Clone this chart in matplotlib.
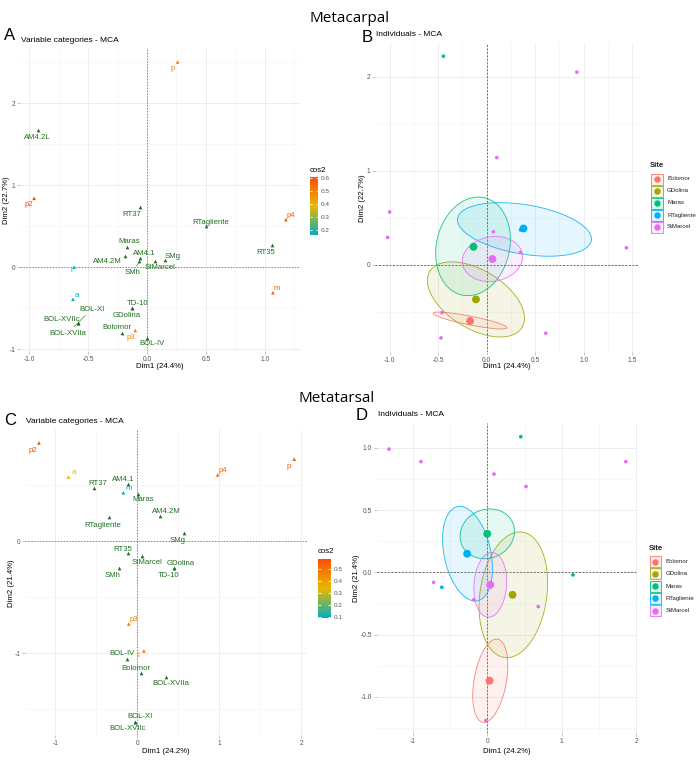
import numpy as np
import matplotlib
matplotlib.use("Agg")
import matplotlib.pyplot as plt
from matplotlib.colors import LinearSegmentedColormap, Normalize
from matplotlib.patches import Rectangle, Polygon
from matplotlib.lines import Line2D
from matplotlib.cm import ScalarMappable
from matplotlib.ticker import FixedLocator

# ======================= DATA =======================
# ---- Metacarpal: variable categories (A) ----
mc_var_names = ["p", "p2", "p3", "p4", "m", "a", "l"]
mc_var_x = [0.26, -0.96, -0.10, 1.18, 1.07, -0.63, -0.62]
mc_var_y = [2.50, 0.84, -0.77, 0.58, -0.31, -0.39, 0.00]
mc_var_cos2 = [0.50, 0.61, 0.49, 0.58, 0.57, 0.165, 0.18]

mc_sup_names = ["AM4.2L", "RT37", "RTagliente", "RT35", "Maras", "AM4.2M", "AM4.1",
                "SMh", "StMarcel", "SMg", "BOL-XI", "BOL-XVIIc", "BOL-XVIIa",
                "TD-10", "GDolina", "Bolomor", "BOL-IV"]
mc_sup_x = [-0.93, -0.06, 0.50, 1.06, -0.17, -0.19, -0.06, -0.065, 0.07, 0.15,
            -0.59, -0.59, -0.59, -0.13, -0.13, -0.21, 0.00]
mc_sup_y = [1.67, 0.73, 0.50, 0.27, 0.25, 0.14, 0.11, 0.07, 0.08, 0.085,
            -0.68, -0.68, -0.68, -0.50, -0.50, -0.80, -0.86]

# ---- Metacarpal: individuals (B) ----
sites = ["Bolomor", "GDolina", "Maras", "RTagliente", "StMarcel"]
mc_ind_site = ["Maras", "StMarcel", "StMarcel", "StMarcel", "StMarcel", "StMarcel",
               "StMarcel", "StMarcel", "StMarcel", "StMarcel", "StMarcel", "RTagliente"]
mc_ind_x = [-0.445, 0.93, 0.105, -1.00, -1.02, 0.07, 0.35, 1.44, -0.46, -0.47, 0.61, 0.35]
mc_ind_y = [2.22, 2.05, 1.14, 0.56, 0.29, 0.35, 0.13, 0.18, -0.51, -0.78, -0.73, 0.37]
mc_mean_x = [-0.17, -0.11, -0.135, 0.38, 0.06]
mc_mean_y = [-0.60, -0.37, 0.19, 0.385, 0.06]
# concentration ellipses: centre x, centre y, half x-extent, half y-extent, correlation
mc_ell_cx = [-0.17, -0.11, -0.14, 0.39, 0.06]
mc_ell_cy = [-0.595, -0.37, 0.195, 0.375, 0.06]
mc_ell_hx = [0.38, 0.50, 0.385, 0.69, 0.31]
mc_ell_hy = [0.09, 0.40, 0.525, 0.285, 0.24]
mc_ell_r = [-0.85, -0.50, 0.14, -0.36, 0.10]

# ---- Metatarsal: variable categories (C) ----
mt_var_names = ["p2", "a", "m", "p4", "p", "p3", "l"]
mt_var_x = [-1.20, -0.84, -0.17, 0.98, 1.915, -0.105, 0.08]
mt_var_y = [0.875, 0.57, 0.43, 0.59, 0.73, -0.74, -0.98]
mt_var_cos2 = [0.58, 0.33, 0.09, 0.52, 0.56, 0.47, 0.45]

mt_sup_names = ["AM4.1", "RT37", "Maras", "AM4.2M", "RTagliente", "SMg", "RT35",
                "StMarcel", "GDolina", "TD-10", "SMh", "BOL-IV", "Bolomor",
                "BOL-XVIIa", "BOL-XI", "BOL-XVIIc"]
mt_sup_x = [-0.11, -0.53, 0.005, 0.28, -0.345, 0.57, -0.11, 0.06, 0.445, 0.445,
            -0.225, -0.12, 0.05, 0.35, -0.03, -0.03]
mt_sup_y = [0.51, 0.475, 0.42, 0.225, 0.21, 0.07, -0.11, -0.13, -0.245, -0.245,
            -0.245, -1.05, -1.18, -1.21, -1.61, -1.61]

# ---- Metatarsal: individuals (D) ----
mt_ind_site = ["StMarcel", "StMarcel", "Maras", "StMarcel", "StMarcel", "StMarcel",
               "Maras", "StMarcel", "RTagliente", "StMarcel", "StMarcel", "StMarcel"]
mt_ind_x = [-1.32, -0.89, 0.45, 0.09, 0.52, 1.86, 1.15, -0.72, -0.61, -0.18, 0.685, -0.02]
mt_ind_y = [0.99, 0.89, 1.09, 0.79, 0.69, 0.89, -0.02, -0.08, -0.12, -0.22, -0.275, -1.19]
mt_mean_x = [0.03, 0.34, 0.00, -0.27, 0.04]
mt_mean_y = [-0.87, -0.18, 0.31, 0.15, -0.10]
mt_ell_cx = [0.04, 0.35, 0.00, -0.265, 0.04]
mt_ell_cy = [-0.87, -0.18, 0.31, 0.15, -0.10]
mt_ell_hx = [0.235, 0.46, 0.365, 0.335, 0.22]
mt_ell_hy = [0.335, 0.505, 0.20, 0.38, 0.26]
mt_ell_r = [0.36, 0.19, 0.10, -0.31, 0.10]

# ======================= STYLE / LAYOUT =======================
W, H = 700, 768
fig = plt.figure(figsize=(W / 100, H / 100), dpi=100)
FONT = "Liberation Sans"
plt.rcParams["font.family"] = [FONT, "DejaVu Sans"]
site_colors = ["#F8766D", "#A3A500", "#00BF7D", "#00B0F6", "#E76BF3"]
SUP_COL = "#1f6e1f"
cmap = LinearSegmentedColormap.from_list("cos2", ["#00AFBB", "#E7B800", "#FC4E07"])

# label offsets in pixels (dx right, dy up) and whether a connector is drawn
offA = {"p": (-5, -7), "AM4.2L": (0, -7), "p2": (-5, -6), "RT37": (-8, -7),
        "RTagliente": (5, 4), "p4": (5, 4), "RT35": (-6, -7), "Maras": (2, 5),
        "AM4.2M": (-17, -6), "AM4.1": (4, 5), "SMh": (-7, -11), "StMarcel": (5, -7),
        "SMg": (8, 4), "l": (-3, -3), "a": (4, 4), "m": (4, 4), "BOL-XI": (14, 14),
        "BOL-XVIIc": (-16, 4), "BOL-XVIIa": (-10, -10), "TD-10": (6, 5),
        "GDolina": (-5, -7), "Bolomor": (-5, 5), "p3": (-5, -7), "BOL-IV": (5, -6)}
connA = {"SMh", "BOL-XI", "BOL-XVIIa"}
offC = {"p2": (-6, -8), "a": (5, 5), "RT37": (4, 4), "AM4.1": (-5, 4), "m": (5, 4),
        "Maras": (5, -6), "p4": (5, 4), "p": (-6, -7), "AM4.2M": (6, 4),
        "RTagliente": (-6, -8), "SMg": (-6, -7), "RT35": (-6, 4), "StMarcel": (5, -7),
        "GDolina": (7, 5), "TD-10": (-5, -7), "SMh": (-6, -7), "p3": (5, 4),
        "l": (-5, -5), "BOL-IV": (-5, 5), "Bolomor": (-5, 5), "BOL-XVIIa": (5, -7),
        "BOL-XI": (5, 5), "BOL-XVIIc": (-7, -7)}
connC = set()


def px_axes(x0, y0, x1, y1):
    return fig.add_axes([x0 / W, 1 - y1 / H, (x1 - x0) / W, (y1 - y0) / H])


def ftext(x, y, s, **kw):
    return fig.text(x / W, 1 - y / H, s, **kw)


def setup(ax, xlim, ylim, xmaj, xmin, ymaj, ymin, xfmt, yfmt, zero_style):
    ax.set_xlim(*xlim)
    ax.set_ylim(*ylim)
    ax.xaxis.set_major_locator(FixedLocator(xmaj))
    ax.xaxis.set_minor_locator(FixedLocator(xmin))
    ax.yaxis.set_major_locator(FixedLocator(ymaj))
    ax.yaxis.set_minor_locator(FixedLocator(ymin))
    ax.set_xticklabels([xfmt.format(v) for v in xmaj])
    ax.set_yticklabels([yfmt.format(v) for v in ymaj])
    for s in ax.spines.values():
        s.set_visible(False)
    ax.grid(which="major", color="#EBEBEB", lw=0.6, zorder=0)
    ax.grid(which="minor", color="#F2F2F2", lw=0.4, zorder=0)
    ax.tick_params(which="major", length=2, width=0.4, color="#999999",
                   labelsize=4.8, labelcolor="#555555", pad=1.5)
    ax.tick_params(which="minor", length=0)
    ax.set_axisbelow(True)
    if zero_style == "dot":
        kw = dict(color="#8a8a8a", lw=0.7, ls=(0, (1.5, 1.5)), zorder=1)
    else:
        kw = dict(color="#444444", lw=0.5, ls=(0, (3, 2)), zorder=1)
    ax.axhline(0, **kw)
    ax.axvline(0, **kw)


def draw_vars(ax, names, xs, ys, cos2, snames, sx, sy, offs, conns, norm):
    cols = [cmap(norm(c)) for c in cos2]
    ax.scatter(sx, sy, marker="^", s=7, color=SUP_COL, lw=0, zorder=3)
    ax.scatter(xs, ys, marker="^", s=7, color=cols, lw=0, zorder=3)
    for n, x, y in zip(snames, sx, sy):
        dx, dy = offs[n]
        ap = dict(arrowstyle="-", lw=0.4, color=SUP_COL, shrinkA=0, shrinkB=1) if n in conns else None
        ax.annotate(n, (x, y), xytext=(dx, dy), textcoords="offset pixels",
                    ha="center", va="center", fontsize=5.6, color=SUP_COL,
                    arrowprops=ap, zorder=4)
    for n, x, y, c in zip(names, xs, ys, cols):
        dx, dy = offs[n]
        ax.annotate(n, (x, y), xytext=(dx, dy), textcoords="offset pixels",
                    ha="center", va="center", fontsize=5.6, color=c, zorder=4)


def ellipse_pts(cx, cy, hx, hy, r, n=200):
    A = np.array([[hx * hx, r * hx * hy], [r * hx * hy, hy * hy]])
    L = np.linalg.cholesky(A)
    t = np.linspace(0, 2 * np.pi, n)
    P = L @ np.vstack([np.cos(t), np.sin(t)])
    return np.column_stack([cx + P[0], cy + P[1]])


def draw_inds(ax, isite, ix, iy, mx, my, ecx, ecy, ehx, ehy, er):
    for k, s in enumerate(sites):
        pts = ellipse_pts(ecx[k], ecy[k], ehx[k], ehy[k], er[k])
        ax.add_patch(Polygon(pts, closed=True, facecolor=site_colors[k], alpha=0.10,
                             edgecolor="none", zorder=2))
        ax.add_patch(Polygon(pts, closed=True, facecolor="none",
                             edgecolor=site_colors[k], lw=0.6, alpha=0.9, zorder=2))
    cols = [site_colors[sites.index(s)] for s in isite]
    ax.scatter(ix, iy, s=7, color=cols, lw=0, zorder=3)
    ax.scatter(mx, my, s=32, color=site_colors, lw=0, zorder=4)


def colorbar(x0, y0, x1, y1, norm, ticks, title_xy):
    cax = px_axes(x0, y0, x1, y1)
    cb = fig.colorbar(ScalarMappable(norm=norm, cmap=cmap), cax=cax)
    cb.outline.set_visible(False)
    cb.set_ticks(ticks)
    cb.set_ticklabels(["{:.1f}".format(t) for t in ticks])
    cax.tick_params(length=0, labelsize=4.6, labelcolor="#555555", pad=2)
    cax.hlines(ticks, 0, 0.2, transform=cax.get_yaxis_transform(), color="white", lw=0.6)
    cax.hlines(ticks, 0.8, 1.0, transform=cax.get_yaxis_transform(), color="white", lw=0.6)
    ftext(title_xy[0], title_xy[1], "cos2", fontsize=5.6, ha="left", va="center")


def legend(x0, yc, dy, title_xy):
    ftext(title_xy[0], title_xy[1], "Site", fontsize=5.6, ha="center", va="center",
          fontweight="bold", color="#222222")
    for k, s in enumerate(sites):
        y = yc + k * dy
        fig.add_artist(Rectangle((x0 / W, 1 - (y + 5.5) / H), 11.5 / W, 11 / H,
                                 transform=fig.transFigure, facecolor=site_colors[k],
                                 alpha=0.12, edgecolor="none"))
        fig.add_artist(Rectangle((x0 / W, 1 - (y + 5.5) / H), 11.5 / W, 11 / H,
                                 transform=fig.transFigure, facecolor="none",
                                 edgecolor=site_colors[k], lw=0.6))
        fig.add_artist(Line2D([(x0 + 5.75) / W], [1 - y / H], marker="o", ms=3.6,
                              color=site_colors[k], transform=fig.transFigure, ls=""))
        ftext(x0 + 16, y, s, fontsize=4.4, ha="left", va="center", color="#222222")


# ======================= FIGURE =======================
ftext(350, 19, "Metacarpal", fontsize=11, ha="center", va="center", family="Open Sans")
ftext(337, 398, "Metatarsal", fontsize=11, ha="center", va="center", family="Open Sans")

# ---- A ----
axA = px_axes(20, 48, 300, 351)
setup(axA, (-1.08, 1.30), (-1.02, 2.67), [-1.0, -0.5, 0.0, 0.5, 1.0],
      [-0.75, -0.25, 0.25, 0.75, 1.25], [-1, 0, 1, 2], [-0.5, 0.5, 1.5, 2.5],
      "{:.1f}", "{:.0f}", "dot")
normA = Normalize(min(mc_var_cos2), max(mc_var_cos2))
draw_vars(axA, mc_var_names, mc_var_x, mc_var_y, mc_var_cos2,
          mc_sup_names, mc_sup_x, mc_sup_y, offA, connA, normA)
colorbar(310, 177, 318, 235, normA, [0.2, 0.3, 0.4, 0.5, 0.6], (310, 170))
ftext(4, 40, "A", fontsize=12, ha="left", va="baseline")
ftext(21, 41, "Variable categories - MCA", fontsize=6, ha="left", va="center")
ftext(160, 367, "Dim1 (24.4%)", fontsize=5.6, ha="center", va="center")
ftext(7, 200, "Dim2 (22.7%)", fontsize=5.6, ha="center", va="center", rotation=90)

# ---- B ----
axB = px_axes(375, 43, 639, 352)
setup(axB, (-1.15, 1.57), (-0.93, 2.36), [-1.0, -0.5, 0.0, 0.5, 1.0, 1.5],
      [-0.75, -0.25, 0.25, 0.75, 1.25], [0, 1, 2], [-0.5, 0.5, 1.5],
      "{:.1f}", "{:.0f}", "dash")
draw_inds(axB, mc_ind_site, mc_ind_x, mc_ind_y, mc_mean_x, mc_mean_y,
          mc_ell_cx, mc_ell_cy, mc_ell_hx, mc_ell_hy, mc_ell_r)
legend(651, 179, 12, (656.5, 165.5))
ftext(362, 42, "B", fontsize=12, ha="left", va="baseline")
ftext(376, 34, "Individuals - MCA", fontsize=6, ha="left", va="center")
ftext(507, 367, "Dim1 (24.4%)", fontsize=5.6, ha="center", va="center")
ftext(362, 198, "Dim2 (22.7%)", fontsize=5.6, ha="center", va="center", rotation=90)

# ---- C ----
axC = px_axes(25, 430, 307, 735)
setup(axC, (-1.37, 2.07), (-1.73, 0.99), [-1, 0, 1, 2], [-0.5, 0.5, 1.5],
      [-1, 0], [-1.5, -0.5, 0.5], "{:.0f}", "{:.0f}", "dot")
normC = Normalize(min(mt_var_cos2), max(mt_var_cos2))
draw_vars(axC, mt_var_names, mt_var_x, mt_var_y, mt_var_cos2,
          mt_sup_names, mt_sup_x, mt_sup_y, offC, connC, normC)
colorbar(318, 559, 331, 618, normC, [0.1, 0.2, 0.3, 0.4, 0.5], (318, 551.5))
ftext(4, 425, "C", fontsize=12, ha="left", va="baseline")
ftext(26, 421.5, "Variable categories - MCA", fontsize=6, ha="left", va="center")
ftext(166, 751.5, "Dim1 (24.2%)", fontsize=5.6, ha="center", va="center")
ftext(12, 583, "Dim2 (21.4%)", fontsize=5.6, ha="center", va="center", rotation=90)

# ---- D ----
axD = px_axes(377, 423, 637, 733)
setup(axD, (-1.48, 2.01), (-1.29, 1.20), [-1, 0, 1, 2], [-0.5, 0.5, 1.5],
      [-1.0, -0.5, 0.0, 0.5, 1.0], [-1.25, -0.75, -0.25, 0.25, 0.75],
      "{:.0f}", "{:.1f}", "dash")
draw_inds(axD, mt_ind_site, mt_ind_x, mt_ind_y, mt_mean_x, mt_mean_y,
          mt_ell_cx, mt_ell_cy, mt_ell_hx, mt_ell_hy, mt_ell_r)
legend(649.5, 561.7, 12.25, (656, 548.3))
ftext(356, 420, "D", fontsize=12, ha="left", va="baseline")
ftext(378, 415, "Individuals - MCA", fontsize=6, ha="left", va="center")
ftext(507, 751.5, "Dim1 (24.2%)", fontsize=5.6, ha="center", va="center")
ftext(357, 578, "Dim2 (21.4%)", fontsize=5.6, ha="center", va="center", rotation=90)

fig.savefig("out.png", dpi=100)
